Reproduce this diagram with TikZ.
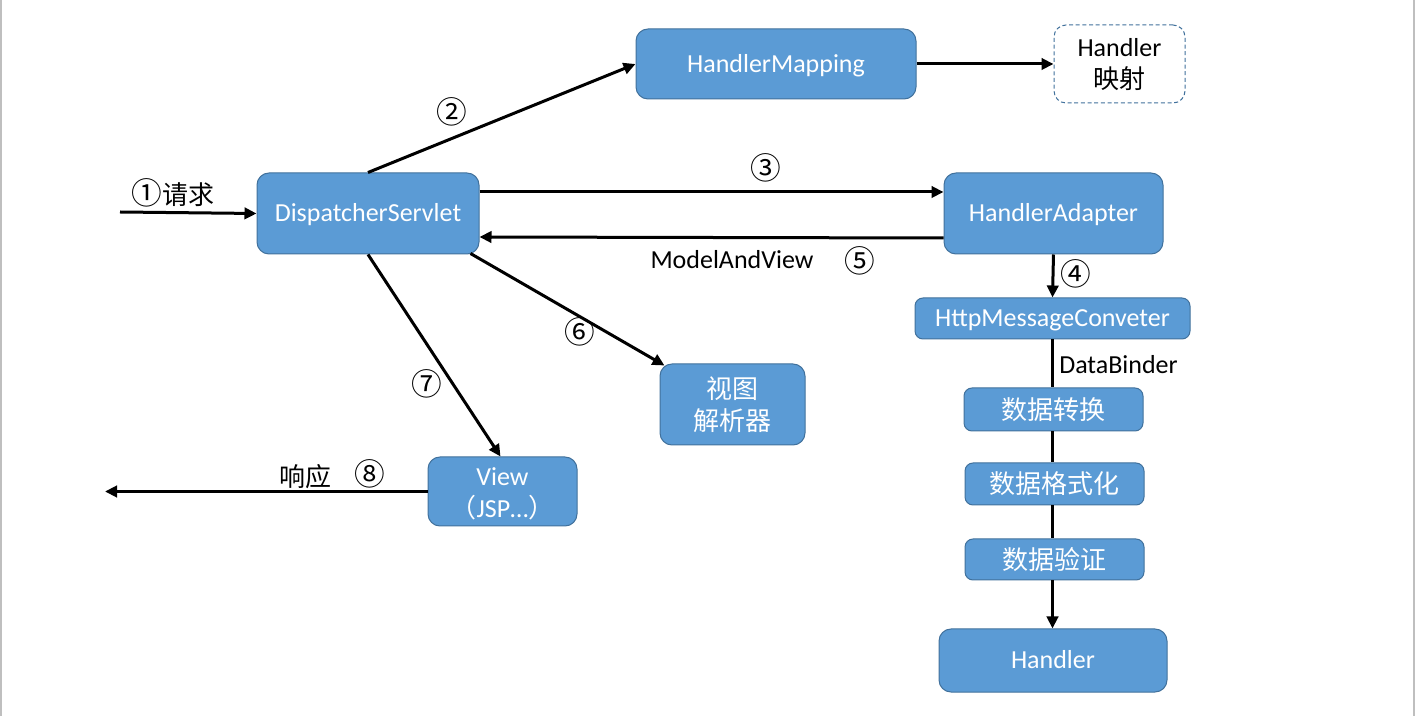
\documentclass[tikz,border=0pt]{standalone}
\usepackage{fontspec}
\setmainfont{Carlito}
\newfontfamily\cjk{Noto Sans CJK SC}
\usetikzlibrary{arrows.meta}
\definecolor{boxfill}{HTML}{5B9BD5}
\definecolor{boxline}{HTML}{41719C}
\definecolor{edge}{HTML}{BFBFBF}
\newcommand{\circnum}[1]{{\cjk\fontsize{23}{24}\selectfont #1}}
\tikzset{
  blue box/.style={draw=boxline, line width=0.75pt, fill=boxfill, text=white, rounded corners=9pt, inner sep=0pt, align=center, font=\fontsize{19.5}{24}\selectfont},
  latin/.style={text height=12.6pt, text depth=0pt},
  thin box/.style={blue box, rounded corners=6pt},
  dash box/.style={draw=boxline, line width=0.75pt, dashed, dash pattern=on 3pt off 2pt, fill=white, rounded corners=9pt, inner sep=0pt, align=center, font=\fontsize{19.5}{24}\selectfont},
  arr/.style={line width=2.25pt, -{Triangle[length=9pt,width=8.5pt]}},
  plain/.style={line width=2.25pt},
  lbl/.style={inner sep=0pt, font=\fontsize{19.5}{24}\selectfont},
}
\begin{document}
\begin{tikzpicture}[x=0.75pt, y=-0.75pt]
\useasboundingbox (0,0) rectangle (1415,716);
\draw[edge, line width=1.2pt] (0.8,0) -- (0.8,716);
\draw[edge, line width=1.2pt] (1414.2,0) -- (1414.2,716);

% boxes
\node[blue box, latin, minimum width=210pt, minimum height=52.5pt] (HM) at (776,64) {HandlerMapping};
\node[dash box, minimum width=98.25pt, minimum height=58.5pt] (HMap) at (1119.5,64) {\rule{0pt}{15pt}Handler\\{\cjk 映射}};
\node[blue box, latin, minimum width=166.5pt, minimum height=60.75pt] (DS) at (368,213.5) {DispatcherServlet};
\node[blue box, latin, minimum width=164.25pt, minimum height=60.75pt] (HA) at (1053.5,213.5) {HandlerAdapter};
\node[thin box, latin, minimum width=206.25pt, minimum height=30.75pt] (HMC) at (1052.5,318.5) {HttpMessageConveter};
\node[thin box, minimum width=134.25pt, minimum height=32.25pt] (DT) at (1053.5,409.5) {\cjk 数据转换};
\node[thin box, minimum width=134.25pt, minimum height=31.5pt] (DF) at (1054.5,484) {\cjk 数据格式化};
\node[thin box, minimum width=134.25pt, minimum height=30.75pt] (DV) at (1054.5,559.5) {\cjk 数据验证};
\node[blue box, latin, minimum width=171pt, minimum height=47.25pt] (H) at (1053,660.5) {Handler};
\node[blue box, minimum width=108.75pt, minimum height=60.75pt] (VR) at (732.5,404.5) {\cjk 视图\\\cjk 解析器};
\node[blue box, minimum width=111.75pt, minimum height=51.75pt] (V) at (502.5,491.5) {\rule{0pt}{16.5pt}View\\{\cjk （}JSP…{\cjk ）}};

\coordinate (in) at (120,212);
\coordinate (out) at (105,491.5);

% connectors
\draw[arr] (in) -- (DS.west);
\draw[arr] (DS.north) -- (HM.west);
\draw[arr] (HM.east) -- (HMap.west);
\draw[arr] (DS.east |- 0,192) -- (HA.west |- 0,192);
\draw[arr] (HA.west |- 0,238) -- (DS.east |- 0,237);
\draw[arr] (HA.south) -- (HMC.north);
\draw[plain] (HMC.south) -- (DT.north -| HMC.south);
\draw[plain] (DT.south -| HMC.south) -- (DF.north -| HMC.south);
\draw[plain] (DF.south -| HMC.south) -- (DV.north -| HMC.south);
\draw[arr] (DV.south -| HMC.south) -- (H.north -| HMC.south);
\draw[arr] ([xshift=-6.75pt,yshift=0.75pt]DS.south east) -- ([xshift=3.75pt,yshift=-1.5pt]VR.north west);
\draw[arr] (DS.south) -- ([xshift=-1.5pt]V.north);
\draw[arr] (V.west) -- (out);

% labels
\node[lbl] (l1) at (173,193) {\circnum{①}\cjk 请求};
\node[lbl] (l2) at (452,112) {\circnum{②}};
\node[lbl] (l3) at (766,168) {\circnum{③}};
\node[lbl] (l4) at (1076,274) {\circnum{④}};
\node[lbl] (l5a) at (732,260) {ModelAndView};
\node[lbl] (l5) at (860,261) {\circnum{⑤}};
\node[lbl, anchor=west] (db) at (1059,365) {DataBinder};
\node[lbl] (l6) at (580,332) {\circnum{⑥}};
\node[lbl] (l7) at (427,384) {\circnum{⑦}};
\node[lbl] (resp) at (305,477) {\cjk 响应};
\node[lbl] (l8) at (370,474) {\circnum{⑧}};
\end{tikzpicture}
\end{document}
